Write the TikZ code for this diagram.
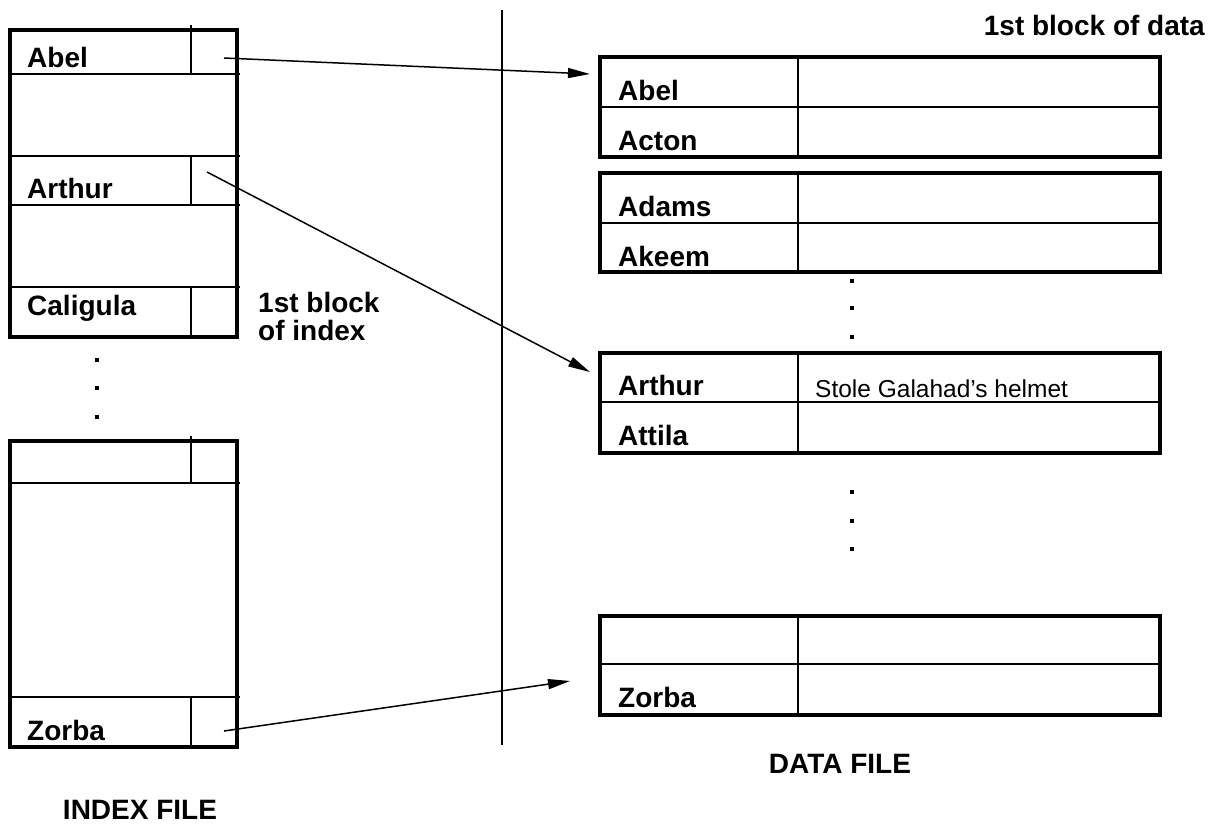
\documentclass[tikz,border=0pt]{standalone}
\usepackage{fontspec}
\setmainfont{Liberation Sans}
\usetikzlibrary{arrows.meta}
\begin{document}
\begin{tikzpicture}[x=1pt, y=-1pt,
  lbl/.style={anchor=base west, inner sep=0pt, font=\bfseries\fontsize{28}{30}\selectfont},
  note/.style={anchor=base west, inner sep=0pt, font=\fontsize{24.5}{28}\selectfont},
  title/.style={anchor=base, inner sep=0pt, font=\bfseries\fontsize{28}{30}\selectfont},
  blk/.style={line width=3.5pt},
  thinline/.style={line width=1.5pt},
  blkdot/.style={fill, minimum size=4pt, inner sep=0pt},
  ptr/.style={line width=1.5pt, -{Triangle[length=22pt, width=10pt]}}]
\useasboundingbox (0,0) rectangle (1219,825);
\draw[blk] (10,30) rectangle (237,337);
\draw[thinline] (10,74) -- (240,74);
\draw[thinline] (10,156) -- (240,156);
\draw[thinline] (10,205) -- (240,205);
\draw[thinline] (10,287) -- (240,287);
\draw[thinline] (191,25) -- (191,74);
\draw[thinline] (191,156) -- (191,205);
\draw[thinline] (191,287) -- (191,337);
\node[lbl] (iabel) at (27,67) {Abel};
\node[lbl] (iarthur) at (27,198) {Arthur};
\node[lbl] (icaligula) at (27,315) {Caligula};
\node[blkdot] (idot0) at (97,360) {};
\node[blkdot] (idot1) at (97,388) {};
\node[blkdot] (idot2) at (97,417) {};
\draw[blk] (10,441) rectangle (237,747);
\draw[thinline] (10,483) -- (240,483);
\draw[thinline] (10,697) -- (240,697);
\draw[thinline] (191,436) -- (191,483);
\draw[thinline] (191,697) -- (191,747);
\node[lbl] (izorba) at (27,740) {Zorba};
\node[lbl] (iblock) at (258,312) {1st block};
\node[lbl] (iblockof) at (258,340) {of index};
\node[title] (ifile) at (140,819) {INDEX FILE};
\draw[thinline] (502,10) -- (502,745);
\node[lbl, anchor=base east] (dblock) at (1205,35) {1st block of data};
\draw[blk] (600,57) rectangle (1160,157);
\draw[thinline] (600,107) -- (1160,107);
\draw[thinline] (798,57) -- (798,157);
\node[lbl] (dabel) at (618,100) {Abel};
\node[lbl] (dacton) at (618,150) {Acton};
\draw[blk] (600,173) rectangle (1160,272);
\draw[thinline] (600,223) -- (1160,223);
\draw[thinline] (798,173) -- (798,272);
\node[lbl] (dadams) at (618,216) {Adams};
\node[lbl] (dakeem) at (618,266) {Akeem};
\node[blkdot] (ddot0) at (852,281) {};
\node[blkdot] (ddot1) at (852,308) {};
\node[blkdot] (ddot2) at (852,337) {};
\draw[blk] (600,353) rectangle (1160,453);
\draw[thinline] (600,402) -- (1160,402);
\draw[thinline] (798,353) -- (798,453);
\node[lbl] (darthur) at (618,395) {Arthur};
\node[note] (dstole) at (815,397) {Stole Galahad’s helmet};
\node[lbl] (dattila) at (618,445) {Attila};
\node[blkdot] (ddot3) at (852,492) {};
\node[blkdot] (ddot4) at (852,521) {};
\node[blkdot] (ddot5) at (852,549) {};
\draw[blk] (600,616) rectangle (1160,715);
\draw[thinline] (600,664) -- (1160,664);
\draw[thinline] (798,616) -- (798,715);
\node[lbl] (dzorba) at (618,707) {Zorba};
\node[title] (dfile) at (840,773) {DATA FILE};
\coordinate (pabel) at (224,58);
\coordinate (parthur) at (207,172);
\coordinate (pzorba) at (224,731);
\coordinate (tabel) at (590,74);
\coordinate (tarthur) at (590,372);
\coordinate (tzorba) at (570,681);
\draw[ptr] (pabel) -- (tabel);
\draw[ptr] (parthur) -- (tarthur);
\draw[ptr] (pzorba) -- (tzorba);
\end{tikzpicture}
\end{document}
